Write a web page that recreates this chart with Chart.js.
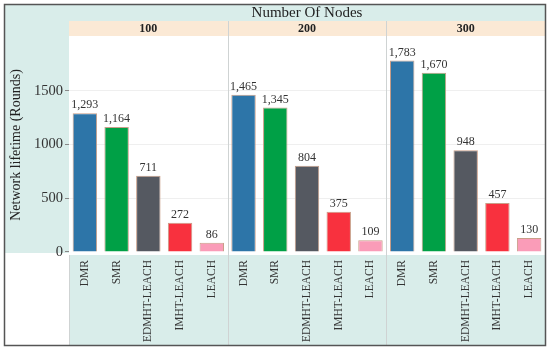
<!DOCTYPE html>
<html>
<head>
<meta charset="utf-8">
<script src="https://cdn.jsdelivr.net/npm/chart.js@4/dist/chart.umd.min.js"></script>
<style>
html,body{margin:0;padding:0;background:#fff;}
canvas{display:block;}
</style>
</head>
<body>
<canvas id="c" width="550" height="350"></canvas>
<script>
const groups = ['100', '200', '300'];
const methods = ['DMR', 'SMR', 'EDMHT-LEACH', 'IMHT-LEACH', 'LEACH'];
const dmr = [1293, 1465, 1783];
const smr = [1164, 1345, 1670];
const edmht = [711, 804, 948];
const imht = [272, 375, 457];
const leach = [86, 109, 130];
const yTicks = [0, 500, 1000, 1500];
const methodColors = ['#2d75a8', '#00a046', '#555961', '#f8313e', '#fa9cb8'];

const series = [dmr, smr, edmht, imht, leach];
const labels = [];
const values = [];
const colors = [];
groups.forEach((g, gi) => {
  methods.forEach((m, mi) => {
    labels.push(m);
    values.push(series[mi][gi]);
    colors.push(methodColors[mi]);
  });
});

const SERIF = '"Liberation Serif", "Times New Roman", serif';
const TEAL = '#d9edea';
const BEIGE = '#fbe9d5';

const frame = {
  id: 'frame',
  beforeDraw(chart) {
    const c = chart.ctx;
    const a = chart.chartArea;
    const L = 5, T = 5, R = 545, B = 345;
    c.save();
    c.fillStyle = '#fff';
    c.fillRect(0, 0, 550, 350);
    c.fillStyle = TEAL;
    c.fillRect(L, T, R - L, 16);
    c.fillRect(L, T, a.left - L, a.bottom - 1 - T);
    c.fillRect(a.left, a.bottom + 1, R - a.left, B - a.bottom - 1);
    c.fillStyle = BEIGE;
    c.fillRect(a.left, 21, R - a.left, a.top - 21);
    c.restore();
  },
  beforeDatasetsDraw(chart) {
    const c = chart.ctx;
    const a = chart.chartArea;
    const x = chart.scales.x;
    c.save();
    c.strokeStyle = '#cfd3d3';
    c.lineWidth = 1;
    const n = methods.length;
    for (let gi = 1; gi < groups.length; gi++) {
      const px = Math.round((x.getPixelForTick(gi * n - 1) + x.getPixelForTick(gi * n)) / 2) + 0.5;
      c.beginPath();
      c.moveTo(px, 21);
      c.lineTo(px, 345);
      c.stroke();
    }
    c.beginPath();
    c.moveTo(a.left + 0.5, a.bottom + 1);
    c.lineTo(a.left + 0.5, 345);
    c.stroke();
    c.restore();
  },
  afterDraw(chart) {
    const c = chart.ctx;
    const a = chart.chartArea;
    const x = chart.scales.x;
    const n = methods.length;
    c.save();
    c.fillStyle = '#222';
    c.textAlign = 'center';
    c.textBaseline = 'middle';
    c.font = '15px ' + SERIF;
    c.fillText('Number Of Nodes', (a.left + 545) / 2, 13.5);
    c.font = 'bold 12px ' + SERIF;
    for (let gi = 0; gi < groups.length; gi++) {
      const left = gi === 0 ? a.left : (x.getPixelForTick(gi * n - 1) + x.getPixelForTick(gi * n)) / 2;
      const right = gi === groups.length - 1 ? a.right : (x.getPixelForTick((gi + 1) * n - 1) + x.getPixelForTick((gi + 1) * n)) / 2;
      c.fillText(groups[gi], (left + right) / 2, 28.5);
    }
    c.font = '12px ' + SERIF;
    c.fillStyle = '#333';
    c.textBaseline = 'alphabetic';
    const meta = chart.getDatasetMeta(0);
    meta.data.forEach((bar, i) => {
      c.fillText(values[i].toLocaleString('en-US'), bar.x, bar.y - 5);
    });
    c.strokeStyle = '#555';
    c.lineWidth = 1.5;
    c.strokeRect(4.5, 4.5, 541, 341);
    c.restore();
  }
};

new Chart(document.getElementById('c'), {
  type: 'bar',
  data: {
    labels: labels,
    datasets: [{
      data: values,
      backgroundColor: colors,
      borderColor: '#c99e88',
      borderWidth: 1,
      barPercentage: 0.77,
      categoryPercentage: 1.0
    }]
  },
  options: {
    responsive: false,
    animation: false,
    devicePixelRatio: 1,
    layout: { padding: { left: 5, top: 36, right: 5, bottom: 5 } },
    plugins: { legend: { display: false }, tooltip: { enabled: false } },
    scales: {
      x: {
        offset: true,
        grid: { display: false },
        border: { display: false },
        ticks: {
          autoSkip: false,
          minRotation: 90,
          maxRotation: 90,
          padding: -2,
          color: '#333',
          font: { family: SERIF, size: 11.5 }
        },
        afterFit(s) { s.height = 91; }
      },
      y: {
        min: -19,
        max: 2012,
        afterBuildTicks(s) { s.ticks = yTicks.map(v => ({ value: v })); },
        grid: {
          color: (ctx) => (ctx.tick && ctx.tick.value === 0) ? 'rgba(0,0,0,0)' : '#efefef',
          tickColor: '#888',
          tickLength: 4,
          drawOnChartArea: true
        },
        border: { display: false },
        ticks: {
          padding: 2,
          color: '#333',
          font: { family: SERIF, size: 14.5 },
          callback: (v) => String(v)
        },
        title: {
          display: true,
          text: 'Network lifetime (Rounds)',
          color: '#222',
          font: { family: SERIF, size: 14 },
          padding: { top: 3, bottom: 0 }
        },
        afterFit(s) { s.width = 64; }
      }
    }
  },
  plugins: [frame]
});
</script>
</body>
</html>
